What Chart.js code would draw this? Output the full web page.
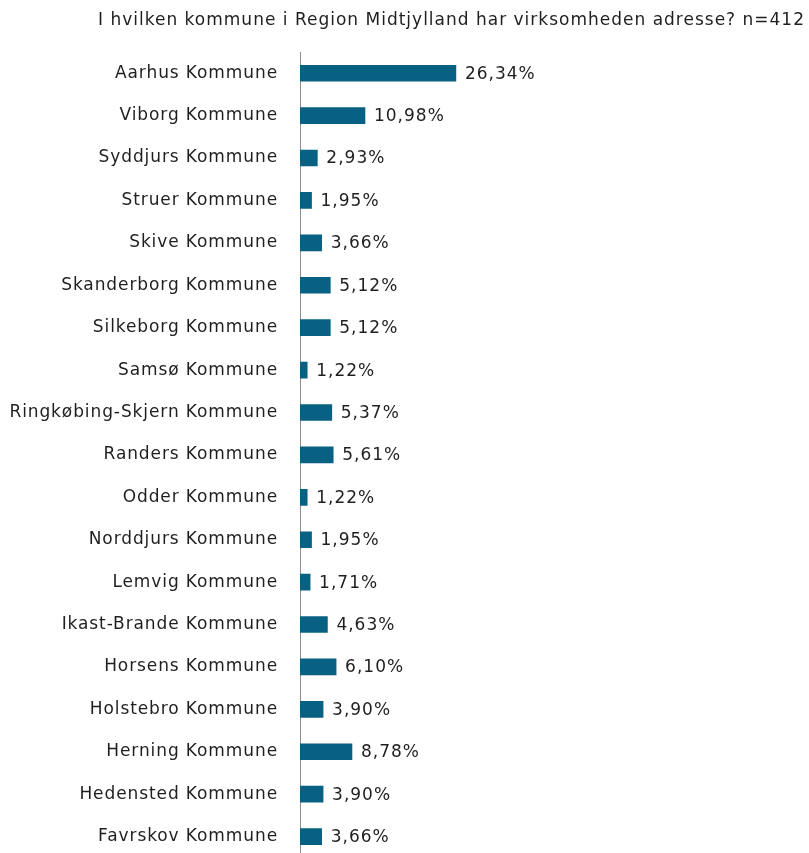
<!DOCTYPE html>
<html>
<head>
<meta charset="utf-8">
<script src="https://cdn.jsdelivr.net/npm/chart.js@4"></script>
<style>
  html, body { margin: 0; padding: 0; background: #fff; overflow: hidden; }
  canvas { display: block; }
</style>
</head>
<body>
<canvas id="c" width="809" height="890" style="width:809px;height:890px"></canvas>
<script>
const titleText = 'I hvilken kommune i Region Midtjylland har virksomheden adresse? n=412';
const categories = [
  'Aarhus Kommune', 'Viborg Kommune', 'Syddjurs Kommune', 'Struer Kommune',
  'Skive Kommune', 'Skanderborg Kommune', 'Silkeborg Kommune', 'Samsø Kommune',
  'Ringkøbing-Skjern Kommune', 'Randers Kommune', 'Odder Kommune', 'Norddjurs Kommune',
  'Lemvig Kommune', 'Ikast-Brande Kommune', 'Horsens Kommune', 'Holstebro Kommune',
  'Herning Kommune', 'Hedensted Kommune', 'Favrskov Kommune'
];
const values = [26.34, 10.98, 2.93, 1.95, 3.66, 5.12, 5.12, 1.22, 5.37, 5.61, 1.22, 1.95, 1.71, 4.63, 6.10, 3.90, 8.78, 3.90, 3.66];

const fontFamily = '"DejaVu Sans", Verdana, sans-serif';
const fmt = v => v.toFixed(2).replace('.', ',') + '%';

const spacingPlugin = {
  id: 'spacing',
  beforeDraw(chart) { chart.ctx.letterSpacing = '0.9px'; }
};

const valueLabels = {
  id: 'valueLabels',
  afterDatasetsDraw(chart) {
    const ctx = chart.ctx;
    const meta = chart.getDatasetMeta(0);
    ctx.save();
    ctx.letterSpacing = '1px';
    ctx.font = '17px ' + fontFamily;
    ctx.fillStyle = '#1f1f1f';
    ctx.textAlign = 'left';
    ctx.textBaseline = 'middle';
    meta.data.forEach((bar, i) => {
      ctx.fillText(fmt(values[i]), bar.x + 9, bar.y + 1);
    });
    ctx.restore();
  }
};

const titlePlugin = {
  id: 'titleText',
  afterDraw(chart) {
    const ctx = chart.ctx;
    ctx.save();
    ctx.letterSpacing = '1px';
    ctx.font = '17px "DejaVu Sans", sans-serif';
    ctx.fillStyle = '#1f1f1f';
    ctx.textAlign = 'right';
    ctx.textBaseline = 'middle';
    ctx.fillText(titleText, 805, 21);
    ctx.restore();
  }
};

new Chart(document.getElementById('c'), {
  type: 'bar',
  data: {
    labels: categories,
    datasets: [{
      data: values,
      backgroundColor: '#086083',
      borderWidth: 0,
      barThickness: 16
    }]
  },
  options: {
    indexAxis: 'y',
    responsive: false,
    animation: false,
    layout: { padding: { top: 52, right: 0, bottom: 0, left: 0 } },
    plugins: { legend: { display: false }, tooltip: { enabled: false }, title: { display: false } },
    scales: {
      x: { display: false, min: 0, max: 86 },
      y: {
        afterFit(scale) { scale.width = 300; },
        grid: { display: false, drawTicks: false },
        border: { display: true, color: '#8c8c8c', width: 1 },
        ticks: { padding: 22, color: '#1f1f1f', font: { family: fontFamily, size: 17 } }
      }
    }
  },
  plugins: [spacingPlugin, valueLabels, titlePlugin]
});
</script>
</body>
</html>
